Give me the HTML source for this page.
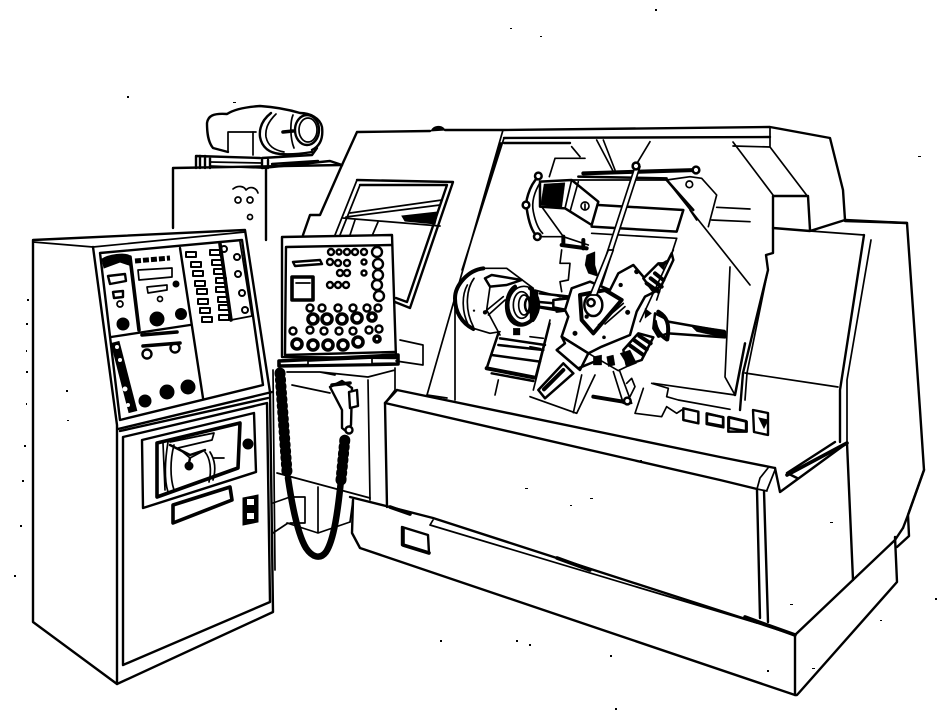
<!DOCTYPE html>
<html><head><meta charset="utf-8"><style>
html,body{margin:0;padding:0;background:#fff}
svg{display:block}
.a{fill:none;stroke:#000;stroke-width:1.7;stroke-linejoin:round;stroke-linecap:round}
.b{fill:none;stroke:#000;stroke-width:2.4;stroke-linejoin:round;stroke-linecap:round}
.c{fill:none;stroke:#000;stroke-width:3.6;stroke-linejoin:round;stroke-linecap:round}
.w{fill:#fff}
.k{fill:#000;stroke:#000}
.z .a{stroke-width:5}.z .b{stroke-width:7.5}.z .c{stroke-width:12}
</style></head><body>
<svg width="945" height="725" viewBox="0 0 945 725" xmlns="http://www.w3.org/2000/svg">
<rect width="945" height="725" fill="#fff"/>
<!-- back cabinet -->
<path class="b" d="M173,228V168L342,165"/>
<path class="b" d="M266,168V240"/>
<path class="a" d="M233,189C238,185 244,186 246,190C250,186 256,187 258,193"/>
<circle class="a" cx="238" cy="200" r="3"/><circle class="a" cx="250" cy="200" r="3"/><circle class="a" cx="250" cy="217" r="2.5"/>
<!-- motor -->
<path class="b" d="M228,152L213,148C208,142 207,133 207,123C208,116 213,113 227,114C233,110 245,107 260,106C275,107 290,110 300,113C310,113 320,118 322,127C323,135 322,145 312,150"/>
<path class="a" d="M228,152V132H256"/>
<path class="a" d="M253,132V155"/>
<path class="b" d="M271,113C262,120 259,128 260,137C262,148 270,153 280,154C290,155 300,154 312,152"/>
<path class="a" d="M276,114C268,122 265,129 266,137C268,146 274,150 284,152"/>
<ellipse class="b" cx="307" cy="130" rx="12" ry="15"/>
<ellipse class="a" cx="308" cy="130" rx="9" ry="12"/>
<path class="a" d="M293,115C290,122 290,138 294,148"/>
<path class="c" d="M283,132L293,131"/>
<path class="b" d="M196,168V156L260,158M200,168V156M205,168V156M210,168V158"/>
<path class="a" d="M210,162L262,163M210,166L262,168"/>
<path class="b" d="M262,168V158L312,155L317,148M262,168L330,161L342,165M268,160V168M272,164L318,161"/>
<!-- main body upper -->
<path class="b" d="M342,165L357,132L430,131"/>
<path class="k" d="M431,131C434,125 442,125 445,130Z"/>
<path class="b" d="M445,130L503,130L770,127L830,138L843,190L845,220"/>
<path class="b" d="M342,165L320,215H310L303,235"/>
<path class="a" d="M503,130L427,395M504,138L462,270M501,143L464,265"/>
<path class="b" d="M504,138L770,137M504,143L570,143"/>
<path class="a" d="M733,142L773,195M770,147L808,197M733,146L770,147M770,127V147"/>
<path class="b" d="M773,196H808L810,230M773,196V228M773,228L810,231L845,220L907,223"/>
<path class="a" d="M810,231L864,235"/>
<path class="b" d="M845,221L907,223L920,410L924,470L908,515L903,528"/>
<path class="b" d="M864,235L840,390V442"/>
<path class="a" d="M871,240L847,380V443"/>
<path class="b" d="M773,228V253L766,255L768,270L743,373L740,410"/>
<path class="a" d="M768,270L747,373L745,400M745,373L838,387"/>
<!-- window -->
<path class="b" d="M357,180L453,182L410,308L395,302"/>
<path class="b" d="M360,185L447,185L407,302L396,298"/>
<path class="a" d="M357,180L335,235M360,185L340,235M350,213L442,200M346,217L440,205M343,218L440,226"/>
<path class="k" d="M402,216L438,212L435,224L405,221Z"/>
<path class="a" d="M355,220L350,235M378,222L372,236"/>
<path class="a" d="M400,340L423,345V365L396,361"/>
<path class="a" d="M455,305V400M427,395L447,398"/>
<!-- interior: head / upper -->
<g class="z" transform="translate(450,130) scale(.33333)">
<path class="a" d="M365,50L390,80M440,30L490,125M460,30L495,120M315,85H405M315,85L298,140M600,35L570,85L555,110"/>
<path class="c" d="M400,130L740,120"/>
<path class="b" d="M385,140L650,145"/>
<path class="a" d="M650,150L720,140L755,145L800,195L775,290M800,232L900,237M785,270L900,275M650,150L900,465M720,240L740,270"/>
<path class="b" d="M650,150L730,240"/>
<circle class="a" cx="718" cy="163" r="10"/>
<circle class="b w" cx="738" cy="120" r="10"/>
<path class="a" d="M840,411L825,741L855,795L610,760"/>
<path class="b" d="M855,795L885,640"/>
<path class="b" d="M265,140C235,170 225,220 230,235C235,270 245,305 262,320"/>
<path class="a" d="M272,155C250,190 245,220 250,245C255,270 262,295 278,310M275,230L340,320M262,320L340,320L415,345"/>
<circle class="b w" cx="265" cy="138" r="10"/><circle class="b w" cx="228" cy="225" r="10"/><circle class="b w" cx="262" cy="320" r="10"/>
<path class="b w" d="M270,155L365,150L445,215L425,285L345,235L270,230Z"/>
<path class="k" d="M282,162L345,158L335,235L272,225Z"/>
<path class="a" d="M365,150L345,235M385,155L360,245"/>
<circle class="a" cx="405" cy="228" r="12"/>
<path class="a" d="M405,222V236"/>
<path class="b" d="M445,225L700,240L680,305L425,290"/>
<path class="a" d="M360,150L650,150M425,310L680,325"/>
<path class="c" d="M335,345L410,355M340,320V345M400,330V355"/>
<path class="a" d="M680,325L620,510"/>
<circle class="b w" cx="558" cy="108" r="10"/>
<path class="a w" d="M555,110L430,495L445,495L570,110Z"/>
<circle class="b w" cx="558" cy="108" r="10"/>
<path class="b" d="M700,835L745,845V880L700,870ZM770,850L820,862V892L770,882ZM835,862L890,875V905H835Z"/>
</g>
<!-- spindle -->
<g class="z" transform="translate(450,255) scale(.33333)">
<path class="a" d="M100,40L170,40L250,100M72,70C50,100 42,160 70,215M52,90C35,120 35,170 55,210M70,220L120,235L150,230"/>
<path class="c" d="M100,40C55,45 15,90 15,130C15,170 35,205 70,222"/>
<path class="b w" d="M105,70L125,60L215,75L170,90L120,95Z"/>
<path class="a" d="M120,95L110,165L150,240M105,170L160,125M115,180L165,135"/>
<circle class="k" cx="105" cy="172" r="6"/><circle class="k" cx="72" cy="167" r="3"/>
<ellipse class="a w" cx="222" cy="150" rx="46" ry="56"/>
<path class="c" d="M195,95C165,115 160,185 195,205C215,215 235,205 245,195"/>
<path class="c" d="M240,100C265,115 270,170 248,195"/>
<ellipse class="a" cx="215" cy="150" rx="25" ry="40"/>
<ellipse class="a" cx="222" cy="150" rx="16" ry="30"/>
<ellipse class="b" cx="237" cy="150" rx="12" ry="22"/>
<path class="b" d="M255,140L315,145M255,155L315,165"/>
<path class="a" d="M255,105L330,125"/>
<path class="b w" d="M315,135L360,125V165L320,170Z"/>
<rect class="k" x="322" y="148" width="12" height="10"/>
<rect class="k" x="190" y="220" width="20" height="20"/>
<path class="b" d="M145,235L110,340"/>
<path class="b" d="M150,250L285,270M145,270L280,285M125,300L270,320"/>
<path class="c" d="M110,340L255,368"/>
<path class="b" d="M125,355L250,378"/>
<path class="a" d="M300,195L255,370M145,375L135,420"/>
</g>
<!-- turret -->
<g class="z" transform="translate(530,250) scale(.33333)">
<path class="a" d="M95,0L90,40H120L115,90L90,95L95,125"/>
<path class="k" d="M170,15L195,5L195,45L205,80L175,70L165,45Z"/>
<path class="k" d="M0,115L25,125L20,185L0,215Z"/>
<path class="b" d="M30,130L120,140M25,170L100,180"/>
<path class="b w" d="M70,150L115,145L110,180L70,172Z"/>
<path class="a" d="M60,220L10,420M0,260L40,265M0,290L32,296"/>
<path class="b w" d="M125,115L180,95L240,120L265,70L310,45L340,80L385,120L345,140L320,185L300,255L215,290L175,310L95,260L115,200L105,180Z"/>
<path class="c w" d="M150,135L225,120L275,150L190,250L155,210Z"/>
<path class="a" d="M205,225L280,160M225,222L285,170"/>
<ellipse class="b w" cx="190" cy="165" rx="27" ry="33"/>
<circle class="b" cx="183" cy="158" r="11"/>
<path class="a w" d="M235,0L180,135L200,135L250,0Z"/>
<circle class="k" cx="272" cy="105" r="6"/><circle class="k" cx="320" cy="65" r="7"/><circle class="k" cx="293" cy="187" r="7"/><circle class="k" cx="135" cy="250" r="7"/><circle class="k" cx="222" cy="262" r="5"/><circle class="k" cx="170" cy="200" r="6"/>
<!-- top right tool -->
<path class="b w" d="M340,85L385,40L410,40L425,10L430,30L395,105L370,125Z"/>
<path class="c" d="M350,100L385,125M362,85L395,110M375,70L400,90"/>
<path class="k" d="M385,45L410,30L400,60Z"/>
<path class="a" d="M430,0L330,215"/>
<!-- right drill -->
<path class="b w" d="M375,190L405,205L415,215L585,245V262L415,250L385,260L370,235Z"/>
<path class="k" d="M480,225L585,240V264L500,245Z"/>
<path class="c" d="M385,185C410,200 420,220 412,268"/>
<path class="c" d="M375,215C378,240 390,255 410,268"/>
<path class="k" d="M345,175L365,190L345,205Z"/>
<!-- lower right tool -->
<path class="b w" d="M280,300L325,250L370,262L335,330L290,345Z"/>
<path class="c" d="M298,285L340,315M312,270L350,298M328,258L362,280"/>
<path class="k" d="M270,310L300,300L320,340L295,350Z"/>
<!-- lower left -->
<path class="b w" d="M95,260L175,310L150,360L80,300L105,280Z"/>
<path class="b w" d="M100,340L25,420L45,445L130,370Z"/>
<path class="c" d="M42,418L100,360"/>
<path class="a" d="M0,440L140,490L195,375M130,488L155,375"/>
<path class="b" d="M145,355L205,330"/>
<path class="a" d="M175,310L265,362L300,345M250,365L280,460H305L268,360"/>
<path class="k" d="M190,320L215,315L215,345L190,345ZM230,320L250,315L255,345L235,350Z"/>
<path class="c" d="M190,440L280,455"/>
<circle class="b w" cx="292" cy="453" r="10"/>
<path class="a" d="M290,400L305,385L315,410L300,440"/>
<path class="a" d="M340,415L315,490L395,500L410,470L440,490L455,480M365,400L415,415L410,440L445,450L600,478"/>
</g>
<!-- base -->
<path class="b" d="M397,390L720,457L775,468"/>
<path class="b" d="M385,403L720,480L757,489"/>
<path class="b" d="M397,390L385,403L387,507"/>
<path class="a" d="M368,380L370,500"/>
<path class="b" d="M350,497L390,507L433,518L795,635"/>
<path class="a" d="M430,525L757,623M433,520L430,525"/>
<path class="c" d="M390,507L410,514M557,558L590,570M745,617L795,635"/>
<path class="b" d="M353,500L352,533L360,548L795,695L797,695L897,582L895,537"/>
<path class="b" d="M795,635V695M795,635L895,540"/>
<path class="b" d="M402,527L428,535L429,553L402,545Z"/>
<path class="c" d="M403,528V545L429,553"/>
<!-- right -->
<path class="a" d="M768,468L760,478L757,489M775,470L767,490M757,489L767,491"/>
<path class="b" d="M757,490L760,618M764,491L768,622"/>
<path class="b" d="M775,468L780,492L847,443L853,580M835,442L787,473L797,478"/>
<path class="c" d="M787,475L847,443"/>
<path class="b" d="M924,470L908,515L909,536L897,547M903,528L895,540"/>
<path class="b" d="M707,414L723,417V426L707,423ZM729,417L746,421V431L729,428Z"/>
<path class="b" d="M753,410L768,413V435L754,432Z"/>
<path class="k" d="M759,418L768,420L764,428Z"/>
<!-- middle lower -->
<path class="a" d="M273,370L275,570"/>
<path class="a" d="M287,372L320,372L368,377L395,370M320,372L335,375M395,368V390L385,403M292,385L330,393"/>
<path class="a" d="M277,473L370,498M318,487V533M287,523L318,533L350,522M273,503L290,497L305,497L305,523L290,523M273,533L288,523"/>
<path class="a" d="M353,500L350,522"/>
<!-- cord -->
<path d="M280,373L287,472" fill="none" stroke="#000" stroke-width="6"/>
<path d="M280,373L287,472" fill="none" stroke="#000" stroke-width="11" stroke-linecap="round" stroke-dasharray="1 5.5"/>
<path d="M288,478C292,505 298,535 306,548C312,557 320,560 326,552C334,540 338,510 341,480" fill="none" stroke="#000" stroke-width="6.5" stroke-linecap="round"/>
<path d="M341,480L345,438" fill="none" stroke="#000" stroke-width="6"/>
<path d="M341,480L345,438" fill="none" stroke="#000" stroke-width="11" stroke-linecap="round" stroke-dasharray="1 5.5"/>
<path class="b w" d="M330,387L342,381L352,388L351,425L347,432L342,428L342,410Z"/>
<path class="c" d="M332,385L350,383"/>
<path class="b w" d="M349,392L357,390L358,406L350,408Z"/>
<circle class="b w" cx="349" cy="430" r="3.5"/>
<!-- left cabinet -->
<path class="b w" d="M33,240L245,230L270,392L273,612L117,684L33,622Z"/>
<path class="a" d="M33,242L93,247L245,232"/>
<path class="b" d="M93,247L117,425V684"/>
<path class="b" d="M118,429L272,392"/>
<path class="b" d="M100,253L242,240L263,385L120,420Z"/>
<path class="b" d="M120,431L268,398"/>
<path class="b" d="M123,437L267,403L270,602L123,665Z"/>
<path class="b" d="M111,337L190,325M180,248L203,398"/>
<path class="c" d="M130,257L139,330"/>
<path class="k" d="M102,259C108,255 125,252 130,256L132,266L120,262L104,268Z"/>
<path class="b" d="M108,276L125,274L126,281L110,284Z"/>
<path class="b" d="M113,292L123,291V297L114,298Z"/>
<circle class="a" cx="120" cy="304" r="3"/>
<circle class="k" cx="123" cy="324" r="6"/>
<path d="M135,261L170,258" stroke="#000" stroke-width="5" stroke-dasharray="6 2"/>
<path class="a" d="M138,270L172,268L172,277L139,280Z"/>
<path class="a" d="M147,287L167,285L167,290L148,293Z"/>
<circle class="k" cx="176" cy="284" r="3"/><circle class="a" cx="160" cy="299" r="2.5"/>
<circle class="k" cx="157" cy="319" r="7"/><circle class="k" cx="181" cy="314" r="5.5"/>
<path class="c" d="M220,244L231,320"/>
<path class="a" d="M240,242L252,316L231,320"/>
<g class="b" style="stroke-width:2">
<circle cx="224" cy="249" r="3"/><circle cx="237" cy="257" r="3"/><circle cx="238" cy="274" r="3"/><circle cx="242" cy="293" r="3"/><circle cx="245" cy="310" r="3"/>
<rect x="186" y="252" width="10" height="5"/><rect x="191" y="262" width="10" height="5"/><rect x="193" y="271" width="10" height="5"/><rect x="195" y="281" width="10" height="5"/><rect x="197" y="289" width="10" height="5"/><rect x="198" y="299" width="10" height="5"/><rect x="200" y="308" width="10" height="5"/><rect x="202" y="317" width="10" height="5"/>
<rect x="210" y="250" width="10" height="5"/><rect x="212" y="260" width="10" height="5"/><rect x="214" y="269" width="10" height="5"/><rect x="216" y="278" width="10" height="5"/><rect x="216" y="287" width="10" height="5"/><rect x="218" y="297" width="10" height="5"/><rect x="219" y="305" width="10" height="5"/><rect x="219" y="315" width="10" height="5"/>
</g>
<path d="M115,342L133,412" stroke="#000" stroke-width="9" fill="none"/>
<circle fill="#fff" cx="117" cy="347" r="2"/><circle fill="#fff" cx="120" cy="360" r="2"/><circle fill="#fff" cx="125" cy="389" r="2.5"/><circle fill="#fff" cx="128" cy="405" r="2"/>
<path class="c" d="M142,335L177,332"/>
<path class="c" d="M143,346L180,343"/>
<circle class="b" cx="147" cy="354" r="4.5"/><circle class="b" cx="175" cy="348" r="4.5"/>
<circle class="k" cx="145" cy="401" r="6"/><circle class="k" cx="167" cy="392" r="7"/><circle class="k" cx="188" cy="387" r="7"/>
<!-- door window -->
<path class="b" d="M142,440L254,413L256,472L143,508Z"/>
<path class="c" d="M157,443L240,423L238,468L157,497Z"/>
<path class="a" d="M163,443L165,490M168,442C165,460 164,480 168,492M174,445C170,460 170,478 174,490M170,442L214,433L212,440L178,448L190,458L205,450"/>
<path class="b" d="M170,445L190,455L205,450M190,458L188,468"/>
<circle class="k" cx="189" cy="466" r="4"/>
<path class="a" d="M205,452C210,458 212,470 209,482M210,452C215,460 216,470 213,480M214,458L224,458"/>
<path class="c" d="M173,505L230,487L232,500L173,523Z"/>
<path class="k" d="M243,498L258,495V522L243,525Z"/>
<rect fill="#fff" x="247" y="499" width="7" height="6"/><rect fill="#fff" x="247" y="513" width="7" height="6"/>
<circle class="k" cx="248" cy="444" r="5"/>
<!-- operator panel -->
<path class="b w" d="M282,237L392,235L396,358L282,357Z"/>
<path class="b" d="M286,247L392,245M286,247L285,355L395,352"/>
<path class="c" d="M279,361L398,355V364L279,366Z"/>
<path class="a w" d="M308,361L372,358V364L308,365Z"/>
<path class="b" d="M293,262L320,260L322,264L295,266Z"/>
<path class="c" d="M292,277H313V300H292Z"/>
<path class="a" d="M296,283H310"/>
<g class="b">
<circle cx="377" cy="252" r="5"/><circle cx="378" cy="264" r="5"/><circle cx="378" cy="275" r="5"/><circle cx="377" cy="285" r="5"/><circle cx="379" cy="296" r="5"/>
<circle cx="331" cy="252" r="3"/><circle cx="339" cy="252" r="2.5"/><circle cx="347" cy="252" r="3"/><circle cx="355" cy="252" r="3"/><circle cx="364" cy="252" r="3"/>
<circle cx="330" cy="262" r="3"/><circle cx="338" cy="263" r="3"/><circle cx="347" cy="263" r="3"/><circle cx="364" cy="262" r="2.5"/>
<circle cx="340" cy="273" r="3"/><circle cx="347" cy="273" r="3"/><circle cx="364" cy="273" r="2.5"/>
<circle cx="330" cy="285" r="3"/><circle cx="338" cy="285" r="3"/><circle cx="346" cy="285" r="3"/>
<circle cx="310" cy="308" r="3.5"/><circle cx="322" cy="308" r="3.5"/><circle cx="338" cy="308" r="3.5"/><circle cx="353" cy="308" r="3.5"/><circle cx="367" cy="308" r="3.5"/><circle cx="378" cy="308" r="3.5"/>
<circle cx="293" cy="331" r="3.5"/><circle cx="310" cy="330" r="3.5"/><circle cx="324" cy="331" r="3.5"/><circle cx="339" cy="331" r="3.5"/><circle cx="353" cy="331" r="3.5"/><circle cx="369" cy="330" r="3.5"/><circle cx="379" cy="329" r="3.5"/>
</g>
<g class="c">
<circle cx="313" cy="319" r="5"/><circle cx="327" cy="319" r="5"/><circle cx="342" cy="319" r="5"/><circle cx="357" cy="318" r="5"/><circle cx="372" cy="317" r="4"/>
<circle cx="297" cy="344" r="5"/><circle cx="313" cy="345" r="5"/><circle cx="328" cy="345" r="5"/><circle cx="343" cy="345" r="5"/><circle cx="358" cy="342" r="5"/><circle cx="377" cy="339" r="3"/>
</g>
<!-- speckles -->
<g fill="#000">
<rect x="127" y="96" width="2" height="2"/><rect x="510" y="28" width="2" height="1"/><rect x="540" y="36" width="2" height="1"/><rect x="655" y="9" width="2" height="2"/><rect x="233" y="102" width="3" height="1"/>
<rect x="27" y="299" width="2" height="2"/><rect x="26" y="323" width="2" height="2"/><rect x="26" y="350" width="1" height="2"/><rect x="26" y="371" width="2" height="2"/><rect x="26" y="403" width="1" height="2"/><rect x="24" y="445" width="2" height="2"/><rect x="22" y="480" width="2" height="2"/><rect x="20" y="525" width="2" height="2"/><rect x="14" y="575" width="2" height="2"/><rect x="66" y="390" width="2" height="2"/><rect x="67" y="420" width="2" height="1"/>
<rect x="440" y="640" width="2" height="2"/><rect x="516" y="640" width="2" height="2"/><rect x="529" y="644" width="2" height="2"/><rect x="610" y="655" width="2" height="2"/><rect x="767" y="670" width="2" height="2"/><rect x="812" y="668" width="3" height="1"/><rect x="880" y="620" width="2" height="1"/><rect x="935" y="598" width="2" height="2"/><rect x="918" y="156" width="3" height="1"/><rect x="570" y="505" width="2" height="1"/><rect x="590" y="498" width="3" height="1"/><rect x="525" y="488" width="3" height="1"/><rect x="640" y="460" width="2" height="1"/><rect x="830" y="522" width="3" height="1"/><rect x="790" y="604" width="3" height="1"/><rect x="615" y="708" width="2" height="2"/>
</g>
</svg>
</body></html>
